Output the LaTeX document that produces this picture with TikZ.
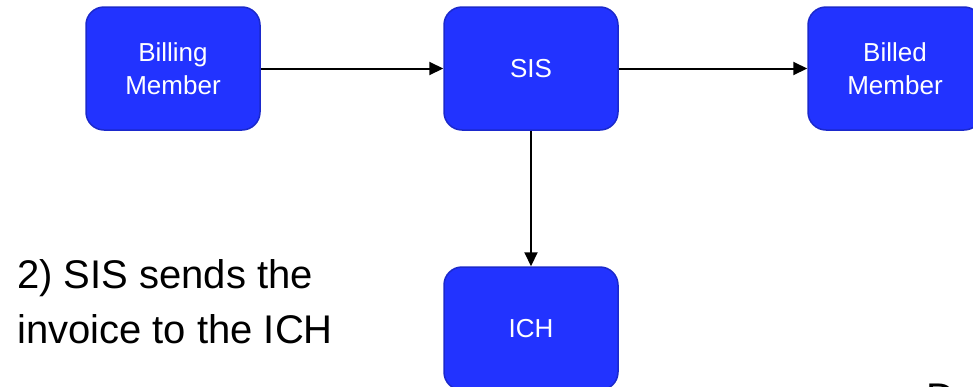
\documentclass[tikz,border=0pt]{standalone}
\usepackage{fontspec}
\setmainfont{Liberation Sans}
\usetikzlibrary{arrows.meta}
\definecolor{boxblue}{HTML}{2233FF}
\definecolor{boxedge}{HTML}{1B29CC}
\tikzset{
  flowbox/.style={draw=boxedge, line width=1.5pt, fill=boxblue, rounded corners=18pt,
    minimum width=174pt, minimum height=123pt, inner sep=0pt, text=white,
    align=center, font=\fontsize{26}{33}\selectfont},
  flow/.style={draw=black, line width=2pt, -{Triangle[length=14pt,width=13pt]}},
  caption/.style={inner sep=0pt, align=left, font=\fontsize{40}{55}\selectfont}
}
\begin{document}
\begin{tikzpicture}[x=1pt,y=-1pt]
  \useasboundingbox (0,0) rectangle (973,386);
  \clip (0,0) rectangle (973,386);
  \node[flowbox] (billing) at (173,68.5) {Billing\\Member};
  \node[flowbox] (sis) at (531,68.5) {SIS};
  \node[flowbox] (billed) at (895,68.5) {Billed\\Member};
  \node[flowbox] (ich) at (531,328.5) {ICH};
  \draw[flow] (billing.east) -- (sis.west);
  \draw[flow] (sis.east) -- (billed.west);
  \draw[flow] (sis.south) -- (ich.north);
  % baseline of the last line sits at the anchor
  \node[caption, anchor=base west] (note) at (17,343) {2) SIS sends the\\invoice to the ICH};
  \node[caption, anchor=base west] (tail) at (926,411) {D};
\end{tikzpicture}
\end{document}
